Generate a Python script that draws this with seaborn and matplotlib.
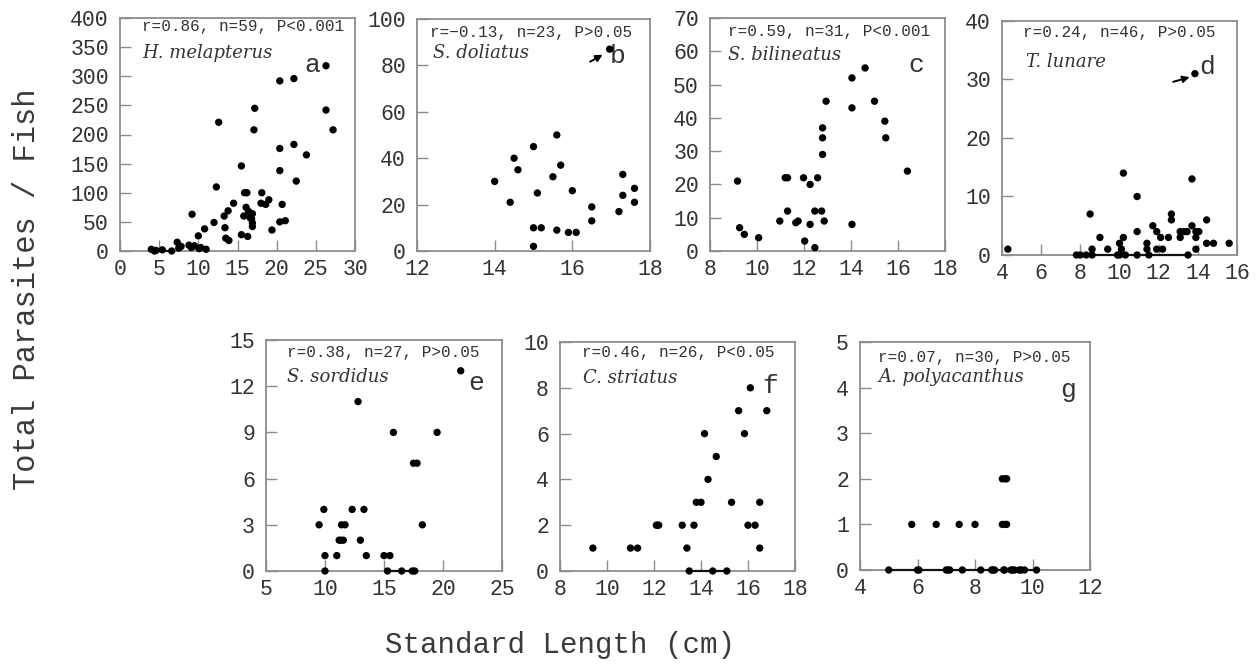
import matplotlib
matplotlib.use("Agg")
import matplotlib.pyplot as plt
import seaborn as sns
import pandas as pd

sns.set_theme(style="white")
plt.rcParams["font.family"] = ["Liberation Mono", "DejaVu Sans"]

# ---- data: standard length (cm) and total parasites per fish ----
a_length = [4.0, 4.4, 4.6, 5.4, 6.6, 7.3, 7.5, 7.8, 8.8, 9.1, 9.2, 9.5, 10.0, 10.1, 10.3,
            10.8, 11.0, 12.0, 12.3, 12.6, 13.3, 13.4, 13.5, 13.8, 13.9, 14.5, 15.5, 15.5,
            15.8, 15.9, 16.1, 16.2, 16.3, 16.4, 16.6, 16.8, 16.9, 16.9, 16.9, 17.1, 17.2,
            18.0, 18.1, 18.6, 19.0, 19.4, 20.4, 20.4, 20.4, 20.4, 20.7, 21.1, 22.2, 22.2,
            22.5, 23.8, 26.3, 26.3, 27.2]
a_parasites = [3, 0, 1, 2, 0, 15, 5, 8, 10, 6, 63, 9, 26, 4, 6,
               38, 3, 49, 110, 221, 60, 40, 22, 69, 18, 82, 146, 28,
               60, 100, 75, 100, 25, 68, 57, 55, 64, 48, 42, 208, 245,
               82, 100, 80, 88, 36, 292, 176, 138, 50, 80, 52, 296, 183,
               120, 165, 318, 242, 208]

b_length = [14.0, 14.4, 14.5, 14.6, 15.0, 15.0, 15.2, 15.0, 15.1, 15.5, 15.6, 15.7,
            15.6, 15.9, 16.1, 16.0, 16.5, 16.5, 16.96, 17.2, 17.3, 17.3, 17.6, 17.6]
b_parasites = [30, 21, 40, 35, 45, 10, 10, 2, 25, 32, 50, 37,
               9, 8, 8, 26, 19, 13, 87, 17, 33, 24, 27, 21]

c_length = [9.17, 9.26, 9.46, 10.07, 10.97, 11.2, 11.3, 11.3, 11.65, 11.75, 11.98,
            12.03, 12.26, 12.26, 12.46, 12.46, 12.58, 12.75, 12.79, 12.79, 12.79, 12.86,
            12.94, 14.04, 14.04, 14.04, 14.6, 15.0, 15.44, 15.48, 16.4]
c_parasites = [21, 7, 5, 4, 9, 22, 22, 12, 8.5, 9, 22,
               3, 20, 8, 1, 12, 22, 12, 29, 34, 37, 9,
               45, 8, 43, 52, 55, 45, 39, 34, 24]

d_length = [4.3, 7.8, 8.0, 8.3, 8.6, 8.6, 8.5, 9.0, 9.4, 9.9, 10.0, 10.1, 10.2, 10.2,
            10.3, 10.9, 10.9, 10.9, 11.4, 11.4, 11.5, 11.7, 11.9, 11.9, 12.1, 12.5, 12.65,
            12.65, 13.1, 13.1, 13.3, 13.45, 13.5, 13.7, 13.7, 13.85, 13.9, 14.05, 13.9,
            13.9, 14.45, 14.45, 14.8, 15.6, 10.0, 12.2]
d_parasites = [1, 0, 0, 0, 0, 1, 7, 3, 1, 0, 2, 1, 3, 14,
               0, 10, 4, 0, 2, 1, 0, 5, 4, 1, 3, 3, 7,
               6, 4, 3, 4, 4, 0, 5, 13, 31, 4, 4, 3,
               1, 6, 2, 2, 2, 0, 1]

e_length = [9.5, 9.9, 10.0, 10.0, 11.0, 11.2, 11.35, 11.55, 11.4, 11.7, 12.3, 12.8, 13.0,
            13.3, 13.5, 15.0, 15.3, 15.5, 15.8, 16.5, 17.4, 17.6, 17.5, 17.8, 18.25, 19.5, 21.5]
e_parasites = [3, 4, 1, 0, 1, 2, 2, 2, 3, 3, 4, 11, 2,
               4, 1, 1, 0, 1, 9, 0, 0, 0, 7, 7, 3, 9, 13]

f_length = [9.4, 11.0, 11.3, 12.1, 12.15, 12.2, 13.2, 13.4, 13.5, 13.7, 13.8, 14.0, 14.15,
            14.3, 14.5, 14.65, 15.1, 15.3, 15.6, 15.85, 16.0, 16.1, 16.3, 16.5, 16.5, 16.8]
f_parasites = [1, 1, 1, 2, 2, 2, 2, 1, 0, 2, 3, 3, 6,
               4, 0, 5, 0, 3, 7, 6, 2, 8, 2, 3, 1, 7]

g_length = [5.0, 5.8, 6.0, 6.05, 6.65, 7.0, 7.05, 7.12, 7.45, 7.56, 8.0, 8.2, 8.58, 8.62,
            8.68, 8.95, 9.05, 9.1, 8.95, 9.05, 9.1, 9.0, 9.03, 9.25, 9.3, 9.37, 9.54, 9.6,
            9.72, 10.14]
g_parasites = [0, 1, 0, 0, 1, 0, 0, 0, 1, 0, 1, 0, 0, 0,
               0, 1, 1, 1, 2, 2, 2, 0, 0, 0, 0, 0, 0, 0,
               0, 0]

panel_letters = ["a", "b", "c", "d", "e", "f", "g"]
stat_labels = ["r=0.86, n=59, P<0.001", "r=\u22120.13, n=23, P>0.05",
               "r=0.59, n=31, P<0.001", "r=0.24, n=46, P>0.05",
               "r=0.38, n=27, P>0.05", "r=0.46, n=26, P<0.05",
               "r=0.07, n=30, P>0.05"]
species = ["H. melapterus", "S. doliatus", "S. bilineatus", "T. lunare",
           "S. sordidus", "C. striatus", "A. polyacanthus"]

x_ticks = [list(range(0, 31, 5)), [12, 14, 16, 18], list(range(8, 19, 2)),
           list(range(4, 17, 2)), list(range(5, 26, 5)), list(range(8, 19, 2)),
           list(range(4, 13, 2))]
y_ticks = [list(range(0, 401, 50)), list(range(0, 101, 20)), list(range(0, 71, 10)),
           list(range(0, 41, 10)), list(range(0, 16, 3)), list(range(0, 11, 2)),
           list(range(0, 6))]

lengths = [a_length, b_length, c_length, d_length, e_length, f_length, g_length]
counts = [a_parasites, b_parasites, c_parasites, d_parasites, e_parasites,
          f_parasites, g_parasites]

# ---- layout (pixel boxes: left, top, right, bottom) ----
W, H = 1259, 666
boxes = [(120, 18, 355, 251), (417, 19, 650, 251), (710, 18, 945, 251),
         (1002, 21, 1237, 255), (266, 340, 502, 571), (560, 342, 795, 571),
         (860, 342, 1090, 570)]
stat_pos = [(0.094, 0.962), (0.056, 0.94), (0.077, 0.94), (0.09, 0.95),
            (0.09, 0.948), (0.093, 0.956), (0.078, 0.934)]
species_pos = [(0.094, 0.85), (0.07, 0.853), (0.077, 0.84), (0.1, 0.825),
               (0.09, 0.84), (0.097, 0.843), (0.078, 0.846)]
letter_pos = [(24.5, 319), (17.17, 84), (16.8, 56), (14.5, 32.2),
              (22.8, 12.2), (16.94, 8.1), (11.23, 3.95)]
# arrows pointing at outlying fish (tail, head) in data units
arrows = {1: ((16.46, 81.6), (16.78, 84.6)), 3: ((12.74, 29.6), (13.58, 30.4))}

fig = plt.figure(figsize=(W / 100, H / 100), dpi=100)
fig.patch.set_facecolor("white")

spine_col = "#8c8c8c"
text_col = "#333333"

for i in range(7):
    l, t, r, b = boxes[i]
    ax = fig.add_axes([l / W, 1 - b / H, (r - l) / W, (b - t) / H])
    df = pd.DataFrame({"length": lengths[i], "parasites": counts[i]})

    # dark line joining fish with no parasites along the baseline
    zeros = sorted(df.loc[df["parasites"] == 0, "length"].tolist())
    xr = x_ticks[i][-1] - x_ticks[i][0]
    if len(zeros) > 1:
        seg = [zeros[0]]
        for z in zeros[1:]:
            if z - seg[-1] <= 0.2 * xr:
                seg.append(z)
            else:
                if len(seg) > 1:
                    ax.plot([seg[0], seg[-1]], [0, 0], color="#111", lw=1.6,
                            clip_on=False, zorder=3)
                seg = [z]
        if len(seg) > 1:
            ax.plot([seg[0], seg[-1]], [0, 0], color="#111", lw=1.6,
                    clip_on=False, zorder=3)

    sns.scatterplot(data=df, x="length", y="parasites", ax=ax, color="black",
                    s=28, edgecolor="none", clip_on=False, zorder=4, legend=False)

    ax.set_xlim(x_ticks[i][0], x_ticks[i][-1])
    ax.set_ylim(y_ticks[i][0], y_ticks[i][-1])
    ax.set_xticks(x_ticks[i])
    ax.set_yticks(y_ticks[i])
    ax.set_xlabel("")
    ax.set_ylabel("")
    ax.tick_params(direction="in", length=8, width=1, color=spine_col,
                   labelsize=15.5, labelcolor=text_col,
                   bottom=True, left=True, top=False, right=False)
    ax.tick_params(axis="x", pad=6)
    ax.tick_params(axis="y", pad=8)
    for sp in ax.spines.values():
        sp.set_visible(True)
        sp.set_color(spine_col)
        sp.set_linewidth(1.3)

    ax.text(*stat_pos[i], stat_labels[i], transform=ax.transAxes, ha="left",
            va="center", fontsize=11.5, color=text_col)
    ax.text(*species_pos[i], species[i], transform=ax.transAxes, ha="left",
            va="center", fontsize=13, color=text_col,
            family="DejaVu Serif", style="italic")
    ax.text(*letter_pos[i], panel_letters[i], ha="center", va="center",
            fontsize=19, color=text_col)
    if i in arrows:
        tail, head = arrows[i]
        ax.annotate("", xy=head, xytext=tail,
                    arrowprops=dict(arrowstyle="-|>", color="black", lw=1.4,
                                    mutation_scale=10, shrinkA=0, shrinkB=0))

fig.text(27 / W, 1 - 289 / H, "Total Parasites / Fish", rotation=90,
         ha="center", va="center", fontsize=22, color="#3a3a3a")
fig.text(560 / W, 1 - 645 / H, "Standard Length (cm)", ha="center",
         va="center", fontsize=21, color="#3a3a3a")

fig.savefig("out.png", dpi=100, facecolor="white")
